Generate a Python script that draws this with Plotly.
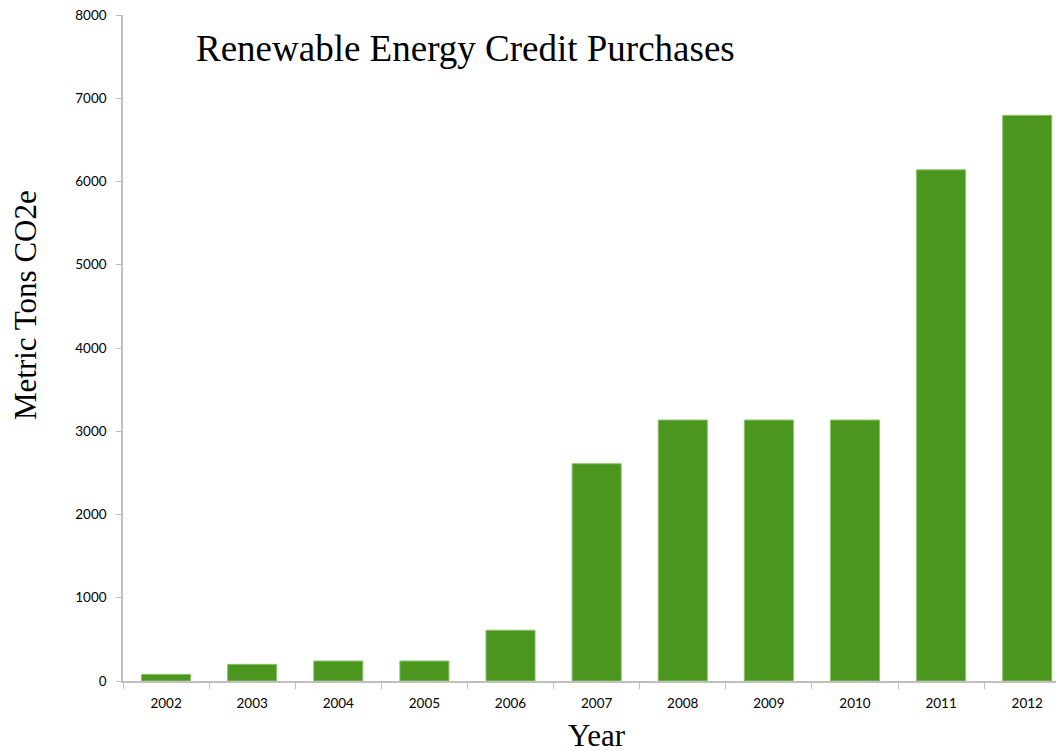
import plotly.graph_objects as go

years = ["2002", "2003", "2004", "2005", "2006", "2007", "2008", "2009", "2010", "2011", "2012"]
tons = [80, 200, 240, 240, 610, 2610, 3135, 3135, 3135, 6140, 6795]
y_ticks = [0, 1000, 2000, 3000, 4000, 5000, 6000, 7000, 8000]

# screen geometry (page has 8px body margin)
PL, PT, PH, PW = 123, 15, 666, 949


def px(sx):
    return (sx - PL) / PW


def py(sy):
    return 1 - (sy - PT) / PH


fig = go.Figure()
fig.add_trace(go.Bar(
    x=years, y=tons,
    marker=dict(color="#4b961e", line=dict(color="#8cc46a", width=1)),
))

serif = dict(family="Liberation Serif", color="black")
fig.update_layout(
    width=1064, height=751,
    paper_bgcolor="white", plot_bgcolor="white",
    margin=dict(l=115, r=0, t=7, b=78),
    bargap=0.43,
    showlegend=False,
    annotations=[
        dict(text="Renewable Energy Credit Purchases", x=px(465), y=py(49),
             xref="paper", yref="paper", xanchor="center", yanchor="middle",
             showarrow=False, font=dict(size=37, **serif)),
        dict(text="Metric Tons CO2e", x=px(25), y=py(305), textangle=-90,
             xref="paper", yref="paper", xanchor="center", yanchor="middle",
             showarrow=False, font=dict(size=31, **serif)),
        dict(text="Year", x=px(597), y=py(735),
             xref="paper", yref="paper", xanchor="center", yanchor="middle",
             showarrow=False, font=dict(size=31, **serif)),
    ],
)

fig.update_xaxes(
    type="category", range=[-0.5, 10.52],
    showline=True, linecolor="#bfbfbf", linewidth=1.5,
    ticks="outside", tickson="boundaries", ticklen=6, tickcolor="#bfbfbf",
    tickfont=dict(family="Lato", size=13.5, color="black"),
    ticklabelstandoff=9,
    showgrid=False,
)
fig.update_yaxes(
    range=[0, 8000], tickvals=y_ticks,
    showline=True, linecolor="#bfbfbf", linewidth=1.5,
    ticks="outside", ticklen=5, tickcolor="#bfbfbf",
    tickfont=dict(family="Lato", size=13.5, color="black"),
    ticklabelstandoff=7, ticklabeloverflow="allow",
    showgrid=False, zeroline=False,
)

fig.write_html("out.html")
